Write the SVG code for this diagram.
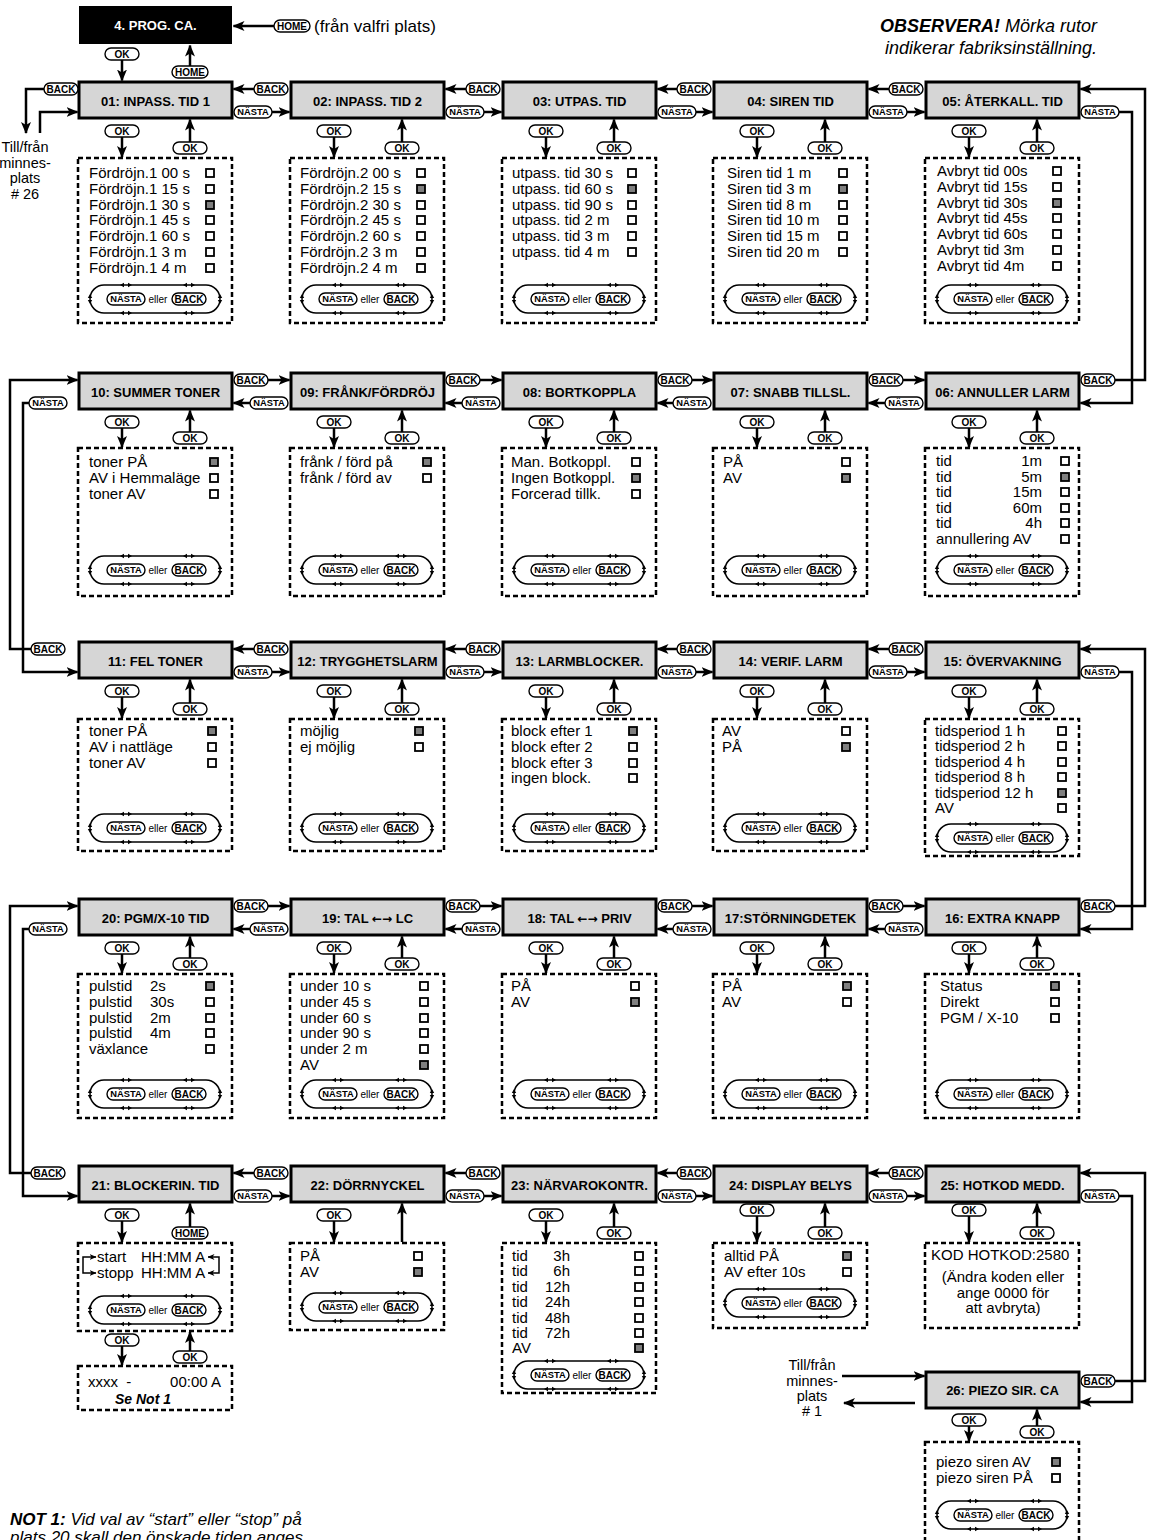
<svg xmlns="http://www.w3.org/2000/svg" width="1154" height="1540" viewBox="0 0 1154 1540">
<style>
text{font-family:"Liberation Sans",Arial,sans-serif;fill:#000}
.wt{fill:#fff}
.bx{fill:#d6d6d6;stroke:#000;stroke-width:3}
.tt{font-size:13px;font-weight:bold;text-anchor:middle}
.aw{font-family:"DejaVu Sans",sans-serif;font-size:12px}
.it{font-size:15px}
.en{text-anchor:end}
.mid{text-anchor:middle}
.ds{fill:none;stroke:#000;stroke-width:2.5;stroke-dasharray:5 3}
.cb{fill:#fff;stroke:#000;stroke-width:1.8}
.cf{fill:#7f7f7f;stroke:#000;stroke-width:1.8}
.p{fill:#fff;stroke:#000;stroke-width:1.4}
.pt{font-size:10px;font-weight:bold;text-anchor:middle}
.pn{font-size:9.3px;font-weight:bold;text-anchor:middle}
.ar{fill:none;stroke:#000;stroke-width:2.5;marker-end:url(#a)}
.sa{fill:none;stroke:#000;stroke-width:1.5;marker-end:url(#s)}
.st{fill:none;stroke:#000;stroke-width:1.5}
.nt{font-size:17px;font-style:italic}
.sm{font-size:14.5px;text-anchor:middle}
</style>
<defs>
<marker id="a" markerUnits="userSpaceOnUse" markerWidth="12" markerHeight="10" viewBox="0 0 12 10" refX="11" refY="5" orient="auto"><path d="M0,0 L12,5 L0,10 L3,5 Z"/></marker>
<marker id="s" markerUnits="userSpaceOnUse" markerWidth="7" markerHeight="6" viewBox="0 0 7 6" refX="6.5" refY="3" orient="auto"><path d="M0,0 L7,3 L0,6 L2,3 Z"/></marker>
<rect id="c0" class="cb" width="8" height="8"/>
<rect id="c1" class="cf" width="8" height="8"/>
<rect id="pk" class="p" width="34" height="12" rx="6"/>
<rect id="pn" class="p" width="38" height="12" rx="6"/>
<rect id="ph" class="p" width="36" height="12" rx="6"/>
<g id="nb">
<path class="st" d="M14,0 H116 A14,14 0 0 1 116,28 H14 A14,14 0 0 1 14,0 Z"/>
<path d="M30,0 l4,-2.2 v4.4 z M42,0 l-4,-2.2 v4.4 z M93,0 l4,-2.2 v4.4 z M105,0 l-4,-2.2 v4.4 z M30,28 l4,-2.2 v4.4 z M42,28 l-4,-2.2 v4.4 z M93,28 l4,-2.2 v4.4 z M105,28 l-4,-2.2 v4.4 z M0,9 l-2.2,4 h4.4 z M0,19 l-2.2,-4 h4.4 z M130,9 l-2.2,4 h4.4 z M130,19 l-2.2,-4 h4.4 z"/>
<use href="#pn" x="17" y="8"/>
<text class="pn" x="36" y="17.4">NÄSTA</text>
<text x="68" y="18" font-size="10" text-anchor="middle">eller</text>
<use href="#pk" x="82" y="8"/>
<text class="pt" x="99" y="17.6">BACK</text>
</g>
</defs>

<g id="notes">
<text class="nt" x="314" y="32" style="font-style:normal">(från valfri plats)</text>
<text class="nt en" x="1097" y="32" style="font-size:18px"><tspan font-weight="bold">OBSERVERA!</tspan> Mörka rutor</text>
<text class="nt en" x="1097" y="54" style="font-size:18px">indikerar fabriksinställning.</text>
<text class="sm" x="25" y="152">Till/från</text>
<text class="sm" x="25" y="168">minnes-</text>
<text class="sm" x="25" y="183">plats</text>
<text class="sm" x="25" y="199"># 26</text>
<text class="sm" x="812" y="1370">Till/från</text>
<text class="sm" x="812" y="1386">minnes-</text>
<text class="sm" x="812" y="1401">plats</text>
<text class="sm" x="812" y="1416"># 1</text>
<text class="nt" x="10" y="1525"><tspan font-weight="bold">NOT 1:</tspan> Vid val av “start” eller “stop” på</text>
<text class="nt" x="10" y="1543">plats 20 skall den önskade tiden anges</text>
</g>

<g id="n00"><rect x="79" y="6" width="153" height="38" fill="#000"/><text class="tt wt" x="155.5" y="30">4. PROG. CA.</text></g>

<g id="n01"><rect class="bx" x="79" y="82" width="153" height="36"/><text class="tt" x="155.5" y="106">01: INPASS. TID 1</text>
<rect class="ds" x="78" y="158" width="154" height="165"/>
<text class="it" x="89" y="178">Fördröjn.1 00 s</text><text class="it" x="89" y="194">Fördröjn.1 15 s</text><text class="it" x="89" y="210">Fördröjn.1 30 s</text><text class="it" x="89" y="225">Fördröjn.1 45 s</text><text class="it" x="89" y="241">Fördröjn.1 60 s</text><text class="it" x="89" y="257">Fördröjn.1 3 m</text><text class="it" x="89" y="273">Fördröjn.1 4 m</text>
<use href="#c0" x="206" y="169"/><use href="#c0" x="206" y="185"/><use href="#c1" x="206" y="201"/><use href="#c0" x="206" y="216"/><use href="#c0" x="206" y="232"/><use href="#c0" x="206" y="248"/><use href="#c0" x="206" y="264"/>
<use href="#nb" x="90" y="285"/></g>

<g id="n02"><rect class="bx" x="291" y="82" width="153" height="36"/><text class="tt" x="367.5" y="106">02: INPASS. TID 2</text>
<rect class="ds" x="290" y="158" width="154" height="165"/>
<text class="it" x="300" y="178">Fördröjn.2 00 s</text><text class="it" x="300" y="194">Fördröjn.2 15 s</text><text class="it" x="300" y="210">Fördröjn.2 30 s</text><text class="it" x="300" y="225">Fördröjn.2 45 s</text><text class="it" x="300" y="241">Fördröjn.2 60 s</text><text class="it" x="300" y="257">Fördröjn.2 3 m</text><text class="it" x="300" y="273">Fördröjn.2 4 m</text>
<use href="#c0" x="417" y="169"/><use href="#c1" x="417" y="185"/><use href="#c0" x="417" y="201"/><use href="#c0" x="417" y="216"/><use href="#c0" x="417" y="232"/><use href="#c0" x="417" y="248"/><use href="#c0" x="417" y="264"/>
<use href="#nb" x="302" y="285"/></g>

<g id="n03"><rect class="bx" x="503" y="82" width="153" height="36"/><text class="tt" x="579.5" y="106">03: UTPAS. TID</text>
<rect class="ds" x="502" y="158" width="154" height="165"/>
<text class="it" x="512" y="178">utpass. tid 30 s</text><text class="it" x="512" y="194">utpass. tid 60 s</text><text class="it" x="512" y="210">utpass. tid 90 s</text><text class="it" x="512" y="225">utpass. tid 2 m</text><text class="it" x="512" y="241">utpass. tid 3 m</text><text class="it" x="512" y="257">utpass. tid 4 m</text>
<use href="#c0" x="628" y="169"/><use href="#c1" x="628" y="185"/><use href="#c0" x="628" y="201"/><use href="#c0" x="628" y="216"/><use href="#c0" x="628" y="232"/><use href="#c0" x="628" y="248"/>
<use href="#nb" x="514" y="285"/></g>

<g id="n04"><rect class="bx" x="714" y="82" width="153" height="36"/><text class="tt" x="790.5" y="106">04: SIREN TID</text>
<rect class="ds" x="713" y="158" width="154" height="165"/>
<text class="it" x="727" y="178">Siren tid 1 m</text><text class="it" x="727" y="194">Siren tid 3 m</text><text class="it" x="727" y="210">Siren tid 8 m</text><text class="it" x="727" y="225">Siren tid 10 m</text><text class="it" x="727" y="241">Siren tid 15 m</text><text class="it" x="727" y="257">Siren tid 20 m</text>
<use href="#c0" x="839" y="169"/><use href="#c1" x="839" y="185"/><use href="#c0" x="839" y="201"/><use href="#c0" x="839" y="216"/><use href="#c0" x="839" y="232"/><use href="#c0" x="839" y="248"/>
<use href="#nb" x="725" y="285"/></g>

<g id="n05"><rect class="bx" x="926" y="82" width="153" height="36"/><text class="tt" x="1002.5" y="106">05: ÅTERKALL. TID</text>
<rect class="ds" x="925" y="158" width="154" height="165"/>
<text class="it" x="937" y="176">Avbryt tid 00s</text><text class="it" x="937" y="192">Avbryt tid 15s</text><text class="it" x="937" y="208">Avbryt tid 30s</text><text class="it" x="937" y="223">Avbryt tid 45s</text><text class="it" x="937" y="239">Avbryt tid 60s</text><text class="it" x="937" y="255">Avbryt tid 3m</text><text class="it" x="937" y="271">Avbryt tid 4m</text>
<use href="#c0" x="1053" y="167"/><use href="#c0" x="1053" y="183"/><use href="#c1" x="1053" y="199"/><use href="#c0" x="1053" y="214"/><use href="#c0" x="1053" y="230"/><use href="#c0" x="1053" y="246"/><use href="#c0" x="1053" y="262"/>
<use href="#nb" x="937" y="285"/></g>

<g id="n10"><rect class="bx" x="79" y="373" width="153" height="36"/><text class="tt" x="155.5" y="397">10: SUMMER TONER</text>
<rect class="ds" x="78" y="448" width="154" height="148"/>
<text class="it" x="89" y="467">toner PÅ</text><text class="it" x="89" y="483">AV i Hemmaläge</text><text class="it" x="89" y="499">toner AV</text>
<use href="#c1" x="210" y="458"/><use href="#c0" x="210" y="474"/><use href="#c0" x="210" y="490"/>
<use href="#nb" x="90" y="556"/></g>

<g id="n09"><rect class="bx" x="291" y="373" width="153" height="36"/><text class="tt" x="367.5" y="397">09: FRÅNK/FÖRDRÖJ</text>
<rect class="ds" x="290" y="448" width="154" height="148"/>
<text class="it" x="300" y="467">frånk / förd på</text><text class="it" x="300" y="483">frånk / förd av</text>
<use href="#c1" x="423" y="458"/><use href="#c0" x="423" y="474"/>
<use href="#nb" x="302" y="556"/></g>

<g id="n08"><rect class="bx" x="503" y="373" width="153" height="36"/><text class="tt" x="579.5" y="397">08: BORTKOPPLA</text>
<rect class="ds" x="502" y="448" width="154" height="148"/>
<text class="it" x="511" y="467">Man. Botkoppl.</text><text class="it" x="511" y="483">Ingen Botkoppl.</text><text class="it" x="511" y="499">Forcerad tillk.</text>
<use href="#c0" x="632" y="458"/><use href="#c1" x="632" y="474"/><use href="#c0" x="632" y="490"/>
<use href="#nb" x="514" y="556"/></g>

<g id="n07"><rect class="bx" x="714" y="373" width="153" height="36"/><text class="tt" x="790.5" y="397">07: SNABB TILLSL.</text>
<rect class="ds" x="713" y="448" width="154" height="148"/>
<text class="it" x="723" y="467">PÅ</text><text class="it" x="723" y="483">AV</text>
<use href="#c0" x="842" y="458"/><use href="#c1" x="842" y="474"/>
<use href="#nb" x="725" y="556"/></g>

<g id="n06"><rect class="bx" x="926" y="373" width="153" height="36"/><text class="tt" x="1002.5" y="397">06: ANNULLER LARM</text>
<rect class="ds" x="925" y="448" width="154" height="148"/>
<text class="it" x="936" y="466">tid</text><text class="it en" x="1042" y="466">1m</text>
<text class="it" x="936" y="482">tid</text><text class="it en" x="1042" y="482">5m</text>
<text class="it" x="936" y="497">tid</text><text class="it en" x="1042" y="497">15m</text>
<text class="it" x="936" y="513">tid</text><text class="it en" x="1042" y="513">60m</text>
<text class="it" x="936" y="528">tid</text><text class="it en" x="1042" y="528">4h</text>
<text class="it" x="936" y="544">annullering AV</text>
<use href="#c0" x="1061" y="457"/><use href="#c1" x="1061" y="473"/><use href="#c0" x="1061" y="488"/><use href="#c0" x="1061" y="504"/><use href="#c0" x="1061" y="519"/><use href="#c0" x="1061" y="535"/>
<use href="#nb" x="937" y="556"/></g>

<g id="n11"><rect class="bx" x="79" y="642" width="153" height="36"/><text class="tt" x="155.5" y="666">11: FEL TONER</text>
<rect class="ds" x="78" y="719" width="154" height="132"/>
<text class="it" x="89" y="736">toner PÅ</text><text class="it" x="89" y="752">AV i nattläge</text><text class="it" x="89" y="768">toner AV</text>
<use href="#c1" x="208" y="727"/><use href="#c0" x="208" y="743"/><use href="#c0" x="208" y="759"/>
<use href="#nb" x="90" y="814"/></g>

<g id="n12"><rect class="bx" x="291" y="642" width="153" height="36"/><text class="tt" x="367.5" y="666">12: TRYGGHETSLARM</text>
<rect class="ds" x="290" y="719" width="154" height="132"/>
<text class="it" x="300" y="736">möjlig</text><text class="it" x="300" y="752">ej möjlig</text>
<use href="#c1" x="415" y="727"/><use href="#c0" x="415" y="743"/>
<use href="#nb" x="302" y="814"/></g>

<g id="n13"><rect class="bx" x="503" y="642" width="153" height="36"/><text class="tt" x="579.5" y="666">13: LARMBLOCKER.</text>
<rect class="ds" x="502" y="719" width="154" height="132"/>
<text class="it" x="511" y="736">block efter 1</text><text class="it" x="511" y="752">block efter 2</text><text class="it" x="511" y="768">block efter 3</text><text class="it" x="511" y="783">ingen block.</text>
<use href="#c1" x="629" y="727"/><use href="#c0" x="629" y="743"/><use href="#c0" x="629" y="759"/><use href="#c0" x="629" y="774"/>
<use href="#nb" x="514" y="814"/></g>

<g id="n14"><rect class="bx" x="714" y="642" width="153" height="36"/><text class="tt" x="790.5" y="666">14: VERIF. LARM</text>
<rect class="ds" x="713" y="719" width="154" height="132"/>
<text class="it" x="722" y="736">AV</text><text class="it" x="722" y="752">PÅ</text>
<use href="#c0" x="842" y="727"/><use href="#c1" x="842" y="743"/>
<use href="#nb" x="725" y="814"/></g>

<g id="n15"><rect class="bx" x="926" y="642" width="153" height="36"/><text class="tt" x="1002.5" y="666">15: ÖVERVAKNING</text>
<rect class="ds" x="925" y="719" width="154" height="137"/>
<text class="it" x="935" y="736">tidsperiod 1 h</text><text class="it" x="935" y="751">tidsperiod 2 h</text><text class="it" x="935" y="767">tidsperiod 4 h</text><text class="it" x="935" y="782">tidsperiod 8 h</text><text class="it" x="935" y="798">tidsperiod 12 h</text><text class="it" x="935" y="813">AV</text>
<use href="#c0" x="1058" y="727"/><use href="#c0" x="1058" y="742"/><use href="#c0" x="1058" y="758"/><use href="#c0" x="1058" y="773"/><use href="#c1" x="1058" y="789"/><use href="#c0" x="1058" y="804"/>
<use href="#nb" x="937" y="824"/></g>

<g id="n20"><rect class="bx" x="79" y="899" width="153" height="36"/><text class="tt" x="155.5" y="923">20: PGM/X-10 TID</text>
<rect class="ds" x="78" y="974" width="154" height="144"/>
<text class="it" x="89" y="991">pulstid</text><text class="it" x="150" y="991">2s</text>
<text class="it" x="89" y="1007">pulstid</text><text class="it" x="150" y="1007">30s</text>
<text class="it" x="89" y="1023">pulstid</text><text class="it" x="150" y="1023">2m</text>
<text class="it" x="89" y="1038">pulstid</text><text class="it" x="150" y="1038">4m</text>
<text class="it" x="89" y="1054">växlance</text>
<use href="#c1" x="206" y="982"/><use href="#c0" x="206" y="998"/><use href="#c0" x="206" y="1014"/><use href="#c0" x="206" y="1029"/><use href="#c0" x="206" y="1045"/>
<use href="#nb" x="90" y="1080"/></g>

<g id="n19"><rect class="bx" x="291" y="899" width="153" height="36"/><text class="tt" x="367.5" y="923">19: TAL <tspan class="aw">←→</tspan> LC</text>
<rect class="ds" x="290" y="974" width="154" height="144"/>
<text class="it" x="300" y="991">under 10 s</text><text class="it" x="300" y="1007">under 45 s</text><text class="it" x="300" y="1023">under 60 s</text><text class="it" x="300" y="1038">under 90 s</text><text class="it" x="300" y="1054">under 2 m</text><text class="it" x="300" y="1070">AV</text>
<use href="#c0" x="420" y="982"/><use href="#c0" x="420" y="998"/><use href="#c0" x="420" y="1014"/><use href="#c0" x="420" y="1029"/><use href="#c0" x="420" y="1045"/><use href="#c1" x="420" y="1061"/>
<use href="#nb" x="302" y="1080"/></g>

<g id="n18"><rect class="bx" x="503" y="899" width="153" height="36"/><text class="tt" x="579.5" y="923">18: TAL <tspan class="aw">←→</tspan> PRIV</text>
<rect class="ds" x="502" y="974" width="154" height="144"/>
<text class="it" x="511" y="991">PÅ</text><text class="it" x="511" y="1007">AV</text>
<use href="#c0" x="631" y="982"/><use href="#c1" x="631" y="998"/>
<use href="#nb" x="514" y="1080"/></g>

<g id="n17"><rect class="bx" x="714" y="899" width="153" height="36"/><text class="tt" x="790.5" y="923">17:STÖRNINGDETEK</text>
<rect class="ds" x="713" y="974" width="154" height="144"/>
<text class="it" x="722" y="991">PÅ</text><text class="it" x="722" y="1007">AV</text>
<use href="#c1" x="843" y="982"/><use href="#c0" x="843" y="998"/>
<use href="#nb" x="725" y="1080"/></g>

<g id="n16"><rect class="bx" x="926" y="899" width="153" height="36"/><text class="tt" x="1002.5" y="923">16: EXTRA KNAPP</text>
<rect class="ds" x="925" y="974" width="154" height="144"/>
<text class="it" x="940" y="991">Status</text><text class="it" x="940" y="1007">Direkt</text><text class="it" x="940" y="1023">PGM / X-10</text>
<use href="#c1" x="1051" y="982"/><use href="#c0" x="1051" y="998"/><use href="#c0" x="1051" y="1014"/>
<use href="#nb" x="937" y="1080"/></g>

<g id="n21"><rect class="bx" x="79" y="1166" width="153" height="36"/><text class="tt" x="155.5" y="1190">21: BLOCKERIN. TID</text>
<rect class="ds" x="78" y="1243" width="154" height="88"/>
<text class="it" x="97" y="1262">start</text><text class="it" x="141" y="1262">HH:MM A</text>
<text class="it" x="97" y="1278">stopp</text><text class="it" x="141" y="1278">HH:MM A</text>
<path class="sa" d="M83,1265 V1257 H96"/><path class="sa" d="M83,1265 V1273 H96"/>
<path class="sa" d="M219,1265 V1257 H208"/><path class="sa" d="M219,1265 V1273 H208"/>
<use href="#nb" x="90" y="1296"/>
<rect class="ds" x="78" y="1366" width="154" height="44"/>
<text class="it" x="88" y="1387" style="white-space:pre">xxxx  -</text><text class="it en" x="221" y="1387">00:00 A</text>
<text class="it mid" x="143" y="1404" font-weight="bold" font-style="italic" style="font-size:14px">Se Not 1</text></g>

<g id="n22"><rect class="bx" x="291" y="1166" width="153" height="36"/><text class="tt" x="367.5" y="1190">22: DÖRRNYCKEL</text>
<rect class="ds" x="290" y="1243" width="154" height="87"/>
<text class="it" x="300" y="1261">PÅ</text><text class="it" x="300" y="1277">AV</text>
<use href="#c0" x="414" y="1252"/><use href="#c1" x="414" y="1268"/>
<use href="#nb" x="302" y="1293"/></g>

<g id="n23"><rect class="bx" x="503" y="1166" width="153" height="36"/><text class="tt" x="579.5" y="1190">23: NÄRVAROKONTR.</text>
<rect class="ds" x="502" y="1243" width="154" height="150"/>
<text class="it" x="512" y="1261">tid</text><text class="it en" x="570" y="1261">3h</text>
<text class="it" x="512" y="1276">tid</text><text class="it en" x="570" y="1276">6h</text>
<text class="it" x="512" y="1292">tid</text><text class="it en" x="570" y="1292">12h</text>
<text class="it" x="512" y="1307">tid</text><text class="it en" x="570" y="1307">24h</text>
<text class="it" x="512" y="1323">tid</text><text class="it en" x="570" y="1323">48h</text>
<text class="it" x="512" y="1338">tid</text><text class="it en" x="570" y="1338">72h</text>
<text class="it" x="512" y="1353">AV</text>
<use href="#c0" x="635" y="1252"/><use href="#c0" x="635" y="1267"/><use href="#c0" x="635" y="1283"/><use href="#c0" x="635" y="1298"/><use href="#c0" x="635" y="1314"/><use href="#c0" x="635" y="1329"/><use href="#c1" x="635" y="1344"/>
<use href="#nb" x="514" y="1361"/></g>

<g id="n24"><rect class="bx" x="714" y="1166" width="153" height="36"/><text class="tt" x="790.5" y="1190">24: DISPLAY BELYS</text>
<rect class="ds" x="713" y="1243" width="154" height="85"/>
<text class="it" x="724" y="1261">alltid PÅ</text><text class="it" x="724" y="1277">AV efter 10s</text>
<use href="#c1" x="843" y="1252"/><use href="#c0" x="843" y="1268"/>
<use href="#nb" x="725" y="1289"/></g>

<g id="n25"><rect class="bx" x="926" y="1166" width="153" height="36"/><text class="tt" x="1002.5" y="1190">25: HOTKOD MEDD.</text>
<rect class="ds" x="925" y="1243" width="154" height="85"/>
<text class="it" x="931" y="1260">KOD HOTKOD:2580</text>
<text class="it mid" x="1003" y="1282">(Ändra koden eller</text>
<text class="it mid" x="1003" y="1298">ange 0000 för</text>
<text class="it mid" x="1003" y="1313">att avbryta)</text></g>

<g id="n26"><rect class="bx" x="926" y="1372" width="153" height="36"/><text class="tt" x="1002.5" y="1395">26: PIEZO SIR. CA</text>
<rect class="ds" x="925" y="1442" width="154" height="120"/>
<text class="it" x="936" y="1467">piezo siren AV</text><text class="it" x="936" y="1483">piezo siren PÅ</text>
<use href="#c1" x="1052" y="1458"/><use href="#c0" x="1052" y="1474"/>
<use href="#nb" x="937" y="1501"/></g>

<g id="connectors">
<use href="#ph" x="274" y="20"/><text class="pt" x="292" y="29.6">HOME</text><path class="ar" d="M274,26 H233.5"/>
<use href="#pk" x="105" y="48"/><text class="pt" x="122" y="57.6">OK</text><path class="ar" d="M122,60 V80.5"/>
<use href="#ph" x="172" y="66"/><text class="pt" x="190" y="75.6">HOME</text><path class="ar" d="M190,66 V45.5"/>
<use href="#pk" x="44" y="83"/><text class="pt" x="61" y="92.6">BACK</text><path class="ar" d="M44,89 H26 V133"/>
<path class="ar" d="M40,133 V112 H77.5"/>

<use href="#pk" x="105" y="125"/><text class="pt" x="122" y="134.6">OK</text><path class="ar" d="M122,137 V157"/>
<use href="#pk" x="173" y="142"/><text class="pt" x="190" y="151.6">OK</text><path class="ar" d="M190,142 V119.5"/>
<use href="#pk" x="317" y="125"/><text class="pt" x="334" y="134.6">OK</text><path class="ar" d="M334,137 V157"/>
<use href="#pk" x="385" y="142"/><text class="pt" x="402" y="151.6">OK</text><path class="ar" d="M402,142 V119.5"/>
<use href="#pk" x="529" y="125"/><text class="pt" x="546" y="134.6">OK</text><path class="ar" d="M546,137 V157"/>
<use href="#pk" x="597" y="142"/><text class="pt" x="614" y="151.6">OK</text><path class="ar" d="M614,142 V119.5"/>
<use href="#pk" x="740" y="125"/><text class="pt" x="757" y="134.6">OK</text><path class="ar" d="M757,137 V157"/>
<use href="#pk" x="808" y="142"/><text class="pt" x="825" y="151.6">OK</text><path class="ar" d="M825,142 V119.5"/>
<use href="#pk" x="952" y="125"/><text class="pt" x="969" y="134.6">OK</text><path class="ar" d="M969,137 V157"/>
<use href="#pk" x="1020" y="142"/><text class="pt" x="1037" y="151.6">OK</text><path class="ar" d="M1037,142 V119.5"/>

<use href="#pk" x="254" y="83"/><text class="pt" x="271" y="92.6">BACK</text><path class="ar" d="M254,89 H233.5"/>
<use href="#pn" x="234" y="106"/><text class="pn" x="253" y="115.4">NÄSTA</text><path class="ar" d="M272,112 H289.5"/>
<use href="#pk" x="466" y="83"/><text class="pt" x="483" y="92.6">BACK</text><path class="ar" d="M466,89 H445.5"/>
<use href="#pn" x="446" y="106"/><text class="pn" x="465" y="115.4">NÄSTA</text><path class="ar" d="M484,112 H501.5"/>
<use href="#pk" x="677" y="83"/><text class="pt" x="694" y="92.6">BACK</text><path class="ar" d="M677,89 H657.5"/>
<use href="#pn" x="658" y="106"/><text class="pn" x="677" y="115.4">NÄSTA</text><path class="ar" d="M696,112 H712.5"/>
<use href="#pk" x="889" y="83"/><text class="pt" x="906" y="92.6">BACK</text><path class="ar" d="M889,89 H868.5"/>
<use href="#pn" x="869" y="106"/><text class="pn" x="888" y="115.4">NÄSTA</text><path class="ar" d="M907,112 H924.5"/>

<use href="#pn" x="1081" y="106"/><text class="pn" x="1100" y="115.4">NÄSTA</text><path class="ar" d="M1119,112 H1132 V403 H1080.5"/>
<use href="#pk" x="1081" y="374"/><text class="pt" x="1098" y="383.6">BACK</text><path class="ar" d="M1115,380 H1145 V89 H1080.5"/>

<use href="#pk" x="105" y="416"/><text class="pt" x="122" y="425.6">OK</text><path class="ar" d="M122,428 V447"/>
<use href="#pk" x="173" y="432"/><text class="pt" x="190" y="441.6">OK</text><path class="ar" d="M190,432 V410.5"/>
<use href="#pk" x="317" y="416"/><text class="pt" x="334" y="425.6">OK</text><path class="ar" d="M334,428 V447"/>
<use href="#pk" x="385" y="432"/><text class="pt" x="402" y="441.6">OK</text><path class="ar" d="M402,432 V410.5"/>
<use href="#pk" x="529" y="416"/><text class="pt" x="546" y="425.6">OK</text><path class="ar" d="M546,428 V447"/>
<use href="#pk" x="597" y="432"/><text class="pt" x="614" y="441.6">OK</text><path class="ar" d="M614,432 V410.5"/>
<use href="#pk" x="740" y="416"/><text class="pt" x="757" y="425.6">OK</text><path class="ar" d="M757,428 V447"/>
<use href="#pk" x="808" y="432"/><text class="pt" x="825" y="441.6">OK</text><path class="ar" d="M825,432 V410.5"/>
<use href="#pk" x="952" y="416"/><text class="pt" x="969" y="425.6">OK</text><path class="ar" d="M969,428 V447"/>
<use href="#pk" x="1020" y="432"/><text class="pt" x="1037" y="441.6">OK</text><path class="ar" d="M1037,432 V410.5"/>

<use href="#pk" x="234" y="374"/><text class="pt" x="251" y="383.6">BACK</text><path class="ar" d="M268,380 H289.5"/>
<use href="#pn" x="250" y="397"/><text class="pn" x="269" y="406.4">NÄSTA</text><path class="ar" d="M250,403 H233.5"/>
<use href="#pk" x="446" y="374"/><text class="pt" x="463" y="383.6">BACK</text><path class="ar" d="M480,380 H501.5"/>
<use href="#pn" x="462" y="397"/><text class="pn" x="481" y="406.4">NÄSTA</text><path class="ar" d="M462,403 H445.5"/>
<use href="#pk" x="658" y="374"/><text class="pt" x="675" y="383.6">BACK</text><path class="ar" d="M692,380 H712.5"/>
<use href="#pn" x="673" y="397"/><text class="pn" x="692" y="406.4">NÄSTA</text><path class="ar" d="M673,403 H657.5"/>
<use href="#pk" x="869" y="374"/><text class="pt" x="886" y="383.6">BACK</text><path class="ar" d="M903,380 H924.5"/>
<use href="#pn" x="885" y="397"/><text class="pn" x="904" y="406.4">NÄSTA</text><path class="ar" d="M885,403 H868.5"/>

<use href="#pn" x="29" y="397"/><text class="pn" x="48" y="406.4">NÄSTA</text><path class="ar" d="M29,403 H23 V672 H77.5"/>
<use href="#pk" x="31" y="643"/><text class="pt" x="48" y="652.6">BACK</text><path class="ar" d="M31,649 H10 V380 H77.5"/>

<use href="#pk" x="105" y="685"/><text class="pt" x="122" y="694.6">OK</text><path class="ar" d="M122,697 V718"/>
<use href="#pk" x="173" y="703"/><text class="pt" x="190" y="712.6">OK</text><path class="ar" d="M190,703 V679.5"/>
<use href="#pk" x="317" y="685"/><text class="pt" x="334" y="694.6">OK</text><path class="ar" d="M334,697 V718"/>
<use href="#pk" x="385" y="703"/><text class="pt" x="402" y="712.6">OK</text><path class="ar" d="M402,703 V679.5"/>
<use href="#pk" x="529" y="685"/><text class="pt" x="546" y="694.6">OK</text><path class="ar" d="M546,697 V718"/>
<use href="#pk" x="597" y="703"/><text class="pt" x="614" y="712.6">OK</text><path class="ar" d="M614,703 V679.5"/>
<use href="#pk" x="740" y="685"/><text class="pt" x="757" y="694.6">OK</text><path class="ar" d="M757,697 V718"/>
<use href="#pk" x="808" y="703"/><text class="pt" x="825" y="712.6">OK</text><path class="ar" d="M825,703 V679.5"/>
<use href="#pk" x="952" y="685"/><text class="pt" x="969" y="694.6">OK</text><path class="ar" d="M969,697 V718"/>
<use href="#pk" x="1020" y="703"/><text class="pt" x="1037" y="712.6">OK</text><path class="ar" d="M1037,703 V679.5"/>

<use href="#pk" x="254" y="643"/><text class="pt" x="271" y="652.6">BACK</text><path class="ar" d="M254,649 H233.5"/>
<use href="#pn" x="234" y="666"/><text class="pn" x="253" y="675.4">NÄSTA</text><path class="ar" d="M272,672 H289.5"/>
<use href="#pk" x="466" y="643"/><text class="pt" x="483" y="652.6">BACK</text><path class="ar" d="M466,649 H445.5"/>
<use href="#pn" x="446" y="666"/><text class="pn" x="465" y="675.4">NÄSTA</text><path class="ar" d="M484,672 H501.5"/>
<use href="#pk" x="677" y="643"/><text class="pt" x="694" y="652.6">BACK</text><path class="ar" d="M677,649 H657.5"/>
<use href="#pn" x="658" y="666"/><text class="pn" x="677" y="675.4">NÄSTA</text><path class="ar" d="M696,672 H712.5"/>
<use href="#pk" x="889" y="643"/><text class="pt" x="906" y="652.6">BACK</text><path class="ar" d="M889,649 H868.5"/>
<use href="#pn" x="869" y="666"/><text class="pn" x="888" y="675.4">NÄSTA</text><path class="ar" d="M907,672 H924.5"/>

<use href="#pn" x="1081" y="666"/><text class="pn" x="1100" y="675.4">NÄSTA</text><path class="ar" d="M1119,672 H1132 V929 H1080.5"/>
<use href="#pk" x="1081" y="900"/><text class="pt" x="1098" y="909.6">BACK</text><path class="ar" d="M1115,906 H1145 V649 H1080.5"/>

<use href="#pk" x="105" y="942"/><text class="pt" x="122" y="951.6">OK</text><path class="ar" d="M122,954 V973"/>
<use href="#pk" x="173" y="958"/><text class="pt" x="190" y="967.6">OK</text><path class="ar" d="M190,958 V936.5"/>
<use href="#pk" x="317" y="942"/><text class="pt" x="334" y="951.6">OK</text><path class="ar" d="M334,954 V973"/>
<use href="#pk" x="385" y="958"/><text class="pt" x="402" y="967.6">OK</text><path class="ar" d="M402,958 V936.5"/>
<use href="#pk" x="529" y="942"/><text class="pt" x="546" y="951.6">OK</text><path class="ar" d="M546,954 V973"/>
<use href="#pk" x="597" y="958"/><text class="pt" x="614" y="967.6">OK</text><path class="ar" d="M614,958 V936.5"/>
<use href="#pk" x="740" y="942"/><text class="pt" x="757" y="951.6">OK</text><path class="ar" d="M757,954 V973"/>
<use href="#pk" x="808" y="958"/><text class="pt" x="825" y="967.6">OK</text><path class="ar" d="M825,958 V936.5"/>
<use href="#pk" x="952" y="942"/><text class="pt" x="969" y="951.6">OK</text><path class="ar" d="M969,954 V973"/>
<use href="#pk" x="1020" y="958"/><text class="pt" x="1037" y="967.6">OK</text><path class="ar" d="M1037,958 V936.5"/>

<use href="#pk" x="234" y="900"/><text class="pt" x="251" y="909.6">BACK</text><path class="ar" d="M268,906 H289.5"/>
<use href="#pn" x="250" y="923"/><text class="pn" x="269" y="932.4">NÄSTA</text><path class="ar" d="M250,929 H233.5"/>
<use href="#pk" x="446" y="900"/><text class="pt" x="463" y="909.6">BACK</text><path class="ar" d="M480,906 H501.5"/>
<use href="#pn" x="462" y="923"/><text class="pn" x="481" y="932.4">NÄSTA</text><path class="ar" d="M462,929 H445.5"/>
<use href="#pk" x="658" y="900"/><text class="pt" x="675" y="909.6">BACK</text><path class="ar" d="M692,906 H712.5"/>
<use href="#pn" x="673" y="923"/><text class="pn" x="692" y="932.4">NÄSTA</text><path class="ar" d="M673,929 H657.5"/>
<use href="#pk" x="869" y="900"/><text class="pt" x="886" y="909.6">BACK</text><path class="ar" d="M903,906 H924.5"/>
<use href="#pn" x="885" y="923"/><text class="pn" x="904" y="932.4">NÄSTA</text><path class="ar" d="M885,929 H868.5"/>

<use href="#pn" x="29" y="923"/><text class="pn" x="48" y="932.4">NÄSTA</text><path class="ar" d="M29,929 H23 V1196 H77.5"/>
<use href="#pk" x="31" y="1167"/><text class="pt" x="48" y="1176.6">BACK</text><path class="ar" d="M31,1173 H10 V906 H77.5"/>

<use href="#pk" x="105" y="1209"/><text class="pt" x="122" y="1218.6">OK</text><path class="ar" d="M122,1221 V1242"/>
<use href="#ph" x="172" y="1227"/><text class="pt" x="190" y="1236.6">HOME</text><path class="ar" d="M190,1227 V1203.5"/>
<use href="#pk" x="105" y="1334"/><text class="pt" x="122" y="1343.6">OK</text><path class="ar" d="M122,1346 V1365"/>
<use href="#pk" x="173" y="1351"/><text class="pt" x="190" y="1360.6">OK</text><path class="ar" d="M190,1351 V1332"/>
<use href="#pk" x="317" y="1209"/><text class="pt" x="334" y="1218.6">OK</text><path class="ar" d="M334,1221 V1242"/>
<path class="ar" d="M402,1242 V1203.5"/>
<use href="#pk" x="529" y="1209"/><text class="pt" x="546" y="1218.6">OK</text><path class="ar" d="M546,1221 V1242"/>
<use href="#pk" x="597" y="1227"/><text class="pt" x="614" y="1236.6">OK</text><path class="ar" d="M614,1227 V1203.5"/>
<use href="#pk" x="740" y="1204"/><text class="pt" x="757" y="1213.6">OK</text><path class="ar" d="M757,1216 V1242"/>
<use href="#pk" x="808" y="1227"/><text class="pt" x="825" y="1236.6">OK</text><path class="ar" d="M825,1227 V1203.5"/>
<use href="#pk" x="952" y="1204"/><text class="pt" x="969" y="1213.6">OK</text><path class="ar" d="M969,1216 V1242"/>
<use href="#pk" x="1020" y="1227"/><text class="pt" x="1037" y="1236.6">OK</text><path class="ar" d="M1037,1227 V1203.5"/>

<use href="#pk" x="254" y="1167"/><text class="pt" x="271" y="1176.6">BACK</text><path class="ar" d="M254,1173 H233.5"/>
<use href="#pn" x="234" y="1190"/><text class="pn" x="253" y="1199.4">NÄSTA</text><path class="ar" d="M272,1196 H289.5"/>
<use href="#pk" x="466" y="1167"/><text class="pt" x="483" y="1176.6">BACK</text><path class="ar" d="M466,1173 H445.5"/>
<use href="#pn" x="446" y="1190"/><text class="pn" x="465" y="1199.4">NÄSTA</text><path class="ar" d="M484,1196 H501.5"/>
<use href="#pk" x="677" y="1167"/><text class="pt" x="694" y="1176.6">BACK</text><path class="ar" d="M677,1173 H657.5"/>
<use href="#pn" x="658" y="1190"/><text class="pn" x="677" y="1199.4">NÄSTA</text><path class="ar" d="M696,1196 H712.5"/>
<use href="#pk" x="889" y="1167"/><text class="pt" x="906" y="1176.6">BACK</text><path class="ar" d="M889,1173 H868.5"/>
<use href="#pn" x="869" y="1190"/><text class="pn" x="888" y="1199.4">NÄSTA</text><path class="ar" d="M907,1196 H924.5"/>

<use href="#pn" x="1081" y="1190"/><text class="pn" x="1100" y="1199.4">NÄSTA</text><path class="ar" d="M1119,1196 H1132 V1402 H1080.5"/>
<use href="#pk" x="1081" y="1375"/><text class="pt" x="1098" y="1384.6">BACK</text><path class="ar" d="M1115,1381 H1145 V1173 H1080.5"/>
<path class="ar" d="M842,1376 H924.5"/>
<path class="ar" d="M915,1403 H844"/>
<use href="#pk" x="952" y="1414"/><text class="pt" x="969" y="1423.6">OK</text><path class="ar" d="M969,1426 V1441"/>
<use href="#pk" x="1020" y="1426"/><text class="pt" x="1037" y="1435.6">OK</text><path class="ar" d="M1037,1426 V1409.5"/>
</g>
</svg>
